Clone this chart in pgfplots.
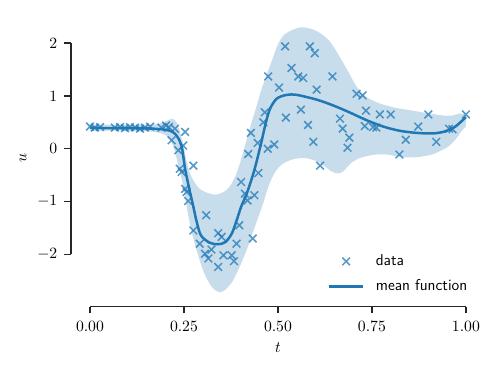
\RequirePackage{fix-cm}
\documentclass[border=0pt]{standalone}
\usepackage{fontspec}
\usepackage{pgfplots}
\pgfplotsset{compat=1.18}
\usepgfplotslibrary{fillbetween}
\definecolor{tabblue}{RGB}{31,119,180}
\definecolor{spine}{RGB}{38,38,38}
\pgfplotsset{
  markleg/.style={legend image code/.code={\draw[##1,mark repeat=2,mark phase=2]
    plot coordinates {(0pt,0pt) (12pt,0pt) (24pt,0pt)};}},
  lineleg/.style={legend image code/.code={\draw[##1] (0pt,0pt) -- (24pt,0pt);}},
}

\begin{document}
\begin{tikzpicture}[font=\fontsize{11.3}{13.6}\selectfont]
% page frame, same proportions as the reference
\path (-64.8pt,-84.0pt) rectangle (293.8pt,183.1pt);
\begin{axis}[
  x=270.7pt, y=38pt,
  xmin=0, xmax=1, ymin=-2, ymax=2,
  clip=false,
  axis lines=left,
  axis line style={-, spine, line width=1.1pt},
  axis x line shift=37.7pt,
  axis y line shift=13.7pt,
  xtick={0,0.25,0.5,0.75,1},
  ytick={-2,-1,0,1,2},
  xticklabel style={yshift=-2pt, /pgf/number format/.cd, fixed, fixed zerofill, precision=2},
  yticklabel style={xshift=-1.5pt},
  tick align=outside,
  major tick length=4.8pt,
  tick style={spine, line width=1.1pt},
  xlabel={$t$}, ylabel={$u$},
  every axis x label/.style={at={(axis description cs:0.5,-0.444)}, anchor=center},
  every axis y label/.style={at={(axis description cs:-0.178,0.455)}, anchor=center, rotate=90},
  legend style={draw=none, fill=none, at={(axis description cs:0.633,-0.093)}, anchor=west,
    inner sep=0pt, nodes={inner sep=0pt, font=\sffamily\fontsize{11.3}{13.6}\selectfont},
    row sep=8.5pt, column sep=0pt},
  legend cell align=left,
  /tikz/every odd column/.append style={column sep=8.5pt},
]

% confidence band
\addplot[name path=up, draw=none, smooth, forget plot] coordinates {
  (0,0.46) (0.1,0.45) (0.17,0.46) (0.195,0.5) (0.21,0.55) (0.222,0.56)
  (0.232,0.48) (0.24,0.3) (0.248,0.08) (0.256,-0.2) (0.264,-0.42) (0.275,-0.6)
  (0.29,-0.75) (0.31,-0.83) (0.335,-0.87) (0.36,-0.8) (0.375,-0.68) (0.388,-0.5)
  (0.4,-0.25) (0.41,0.0) (0.421,0.28) (0.432,0.55) (0.443,0.8) (0.455,1.1)
  (0.47,1.4) (0.483,1.65) (0.5,1.98) (0.52,2.18) (0.56,2.3) (0.6,2.24)
  (0.636,2.05) (0.665,1.73) (0.69,1.42) (0.71,1.17) (0.735,0.98) (0.77,0.86)
  (0.81,0.78) (0.86,0.72) (0.9,0.67) (0.94,0.63) (0.965,0.63) (0.985,0.67) (1.0,0.64)
};
\addplot[name path=lo, draw=none, smooth, forget plot] coordinates {
  (0,0.34) (0.1,0.34) (0.17,0.32) (0.2,0.26) (0.215,0.15) (0.226,-0.05)
  (0.236,-0.35) (0.248,-0.7) (0.261,-1.25) (0.273,-1.65) (0.285,-1.95)
  (0.298,-2.25) (0.312,-2.48) (0.328,-2.65) (0.345,-2.72) (0.362,-2.66)
  (0.38,-2.5) (0.398,-2.24) (0.415,-1.95) (0.43,-1.65) (0.445,-1.35)
  (0.46,-1.05) (0.474,-0.73) (0.49,-0.47) (0.51,-0.3) (0.54,-0.2) (0.575,-0.18)
  (0.61,-0.26) (0.64,-0.42) (0.66,-0.47) (0.675,-0.42) (0.695,-0.27) (0.72,-0.17)
  (0.76,-0.11) (0.79,-0.11) (0.83,-0.16) (0.87,-0.16) (0.91,-0.11) (0.935,-0.03)
  (0.955,0.05) (0.975,0.2) (0.99,0.35) (1.0,0.42)
};
\addplot[fill=tabblue, fill opacity=0.25, draw=none, forget plot] fill between[of=up and lo];

% observations
\addplot[only marks, mark=x, mark size=3.9pt, tabblue, opacity=0.75,
  mark options={line width=1.1pt}, markleg]
  coordinates {
  (0.000,0.42) (0.013,0.40) (0.027,0.41) (0.066,0.40) (0.08,0.41) (0.093,0.39)
  (0.106,0.41) (0.12,0.40) (0.133,0.38) (0.146,0.40) (0.16,0.42) (0.19,0.40)
  (0.202,0.44) (0.21,0.41) (0.226,0.38) (0.253,0.32) (0.217,0.16) (0.235,-0.03)
  (0.248,0.06) (0.239,-0.38) (0.275,-0.32) (0.244,-0.44) (0.253,-0.76) (0.257,-0.82)
  (0.261,-0.99) (0.309,-1.26) (0.275,-1.55) (0.292,-1.80) (0.341,-1.60) (0.35,-1.67)
  (0.323,-1.91) (0.306,-1.99) (0.315,-2.08) (0.341,-2.24) (0.355,-2.02) (0.377,-2.02)
  (0.383,-2.13) (0.39,-1.80) (0.397,-1.45) (0.433,-1.70) (0.419,-0.98) (0.402,-0.63)
  (0.412,-0.85) (0.437,-0.88) (0.448,-0.46) (0.421,-0.10) (0.428,0.30) (0.446,0.11)
  (0.473,0.0) (0.49,0.08) (0.461,0.50) (0.465,0.69) (0.474,1.37) (0.503,1.16)
  (0.519,1.94) (0.536,1.53) (0.521,0.59) (0.554,1.37) (0.567,1.34) (0.561,0.74)
  (0.58,0.45) (0.585,1.94) (0.598,1.81) (0.603,1.12) (0.594,0.13) (0.612,-0.32)
  (0.645,1.37) (0.665,0.57) (0.672,0.38) (0.69,0.21) (0.685,0.02) (0.709,1.04)
  (0.725,1.01) (0.734,0.72) (0.731,0.43) (0.753,0.41) (0.762,0.40) (0.771,0.65)
  (0.80,0.65) (0.823,-0.11) (0.84,0.17) (0.873,0.42) (0.90,0.65) (0.921,0.13)
  (0.955,0.38) (0.964,0.37) (1.0,0.65)
};
\addlegendentry{data}

% posterior mean
\addplot[tabblue, line width=1.8pt, smooth, lineleg]
  coordinates {
  (0,0.40) (0.05,0.39) (0.1,0.39) (0.15,0.385) (0.18,0.375) (0.2,0.36)
  (0.22,0.32) (0.235,0.2) (0.245,0.0) (0.253,-0.38) (0.265,-0.79) (0.275,-1.1)
  (0.283,-1.36) (0.295,-1.64) (0.318,-1.78) (0.34,-1.81) (0.36,-1.77)
  (0.377,-1.61) (0.39,-1.36) (0.402,-1.1) (0.417,-0.85) (0.437,-0.41)
  (0.455,0.1) (0.468,0.5) (0.479,0.76) (0.497,0.95) (0.523,1.02) (0.55,1.02)
  (0.603,0.93) (0.647,0.82) (0.69,0.69) (0.736,0.54) (0.78,0.42) (0.824,0.34)
  (0.869,0.30) (0.913,0.29) (0.945,0.33) (0.972,0.42) (1.0,0.60)
};
\addlegendentry{mean function}
\end{axis}
\end{tikzpicture}
\end{document}
